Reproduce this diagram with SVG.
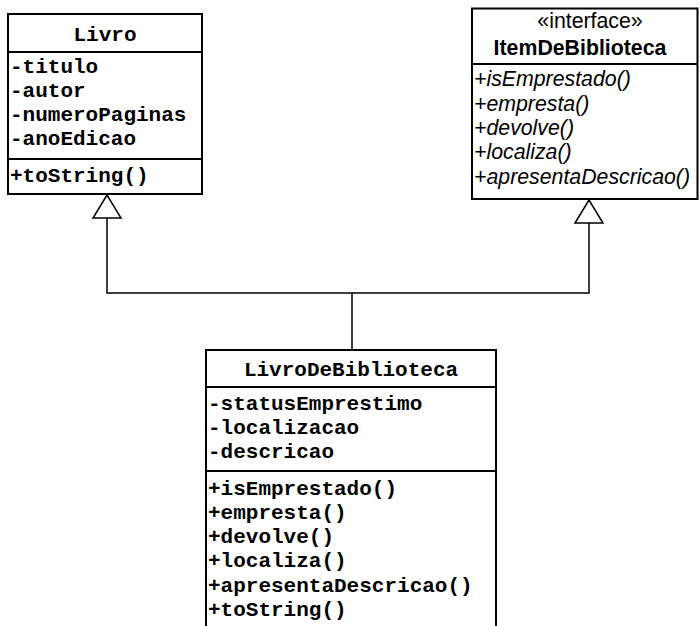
<svg xmlns="http://www.w3.org/2000/svg" width="700" height="626" viewBox="0 0 700 626">
<style>
.box{fill:#fff;stroke:#000;stroke-width:2}
.sep{stroke:#000;stroke-width:2}
.mono{font-family:"Liberation Mono","Courier New",monospace;font-weight:bold;font-size:21px;fill:#000}
.sans{font-family:"Liberation Sans",Arial,sans-serif;font-size:21.3px;fill:#000}
.conn{fill:none;stroke:#000;stroke-width:1.5}
.tri{fill:#fff;stroke:#000;stroke-width:1.5}
</style>
<rect width="700" height="626" fill="#fff"/>
<g id="connectors">
<path class="conn" d="M352 350 V293 H107 V218"/>
<path class="conn" d="M352 293 H589 V223"/>
<polygon class="tri" points="107,195 93,218 121,218"/>
<polygon class="tri" points="589,200 575,223 603,223"/>
</g>
<g id="Livro">
<rect class="box" x="8" y="14" width="194" height="180"/>
<line class="sep" x1="8" y1="52" x2="202" y2="52"/>
<line class="sep" x1="8" y1="159" x2="202" y2="159"/>
<text class="mono" x="105" y="41" text-anchor="middle">Livro</text>
<text class="mono" x="10" y="73">-titulo</text>
<text class="mono" x="10" y="97">-autor</text>
<text class="mono" x="10" y="121">-numeroPaginas</text>
<text class="mono" x="10" y="145">-anoEdicao</text>
<text class="mono" x="10" y="182">+toString()</text>
</g>
<g id="ItemDeBiblioteca">
<rect class="box" x="472" y="8.5" width="225.5" height="190.5"/>
<line class="sep" x1="472" y1="64" x2="697.5" y2="64"/>
<text class="sans" x="590" y="28" text-anchor="middle" font-size="19.5">«interface»</text>
<text class="sans" x="580" y="55" text-anchor="middle" font-weight="bold" font-size="23">ItemDeBiblioteca</text>
<text class="sans" x="474" y="86" font-style="italic">+isEmprestado()</text>
<text class="sans" x="474" y="111" font-style="italic">+empresta()</text>
<text class="sans" x="474" y="135" font-style="italic">+devolve()</text>
<text class="sans" x="474" y="159" font-style="italic">+localiza()</text>
<text class="sans" x="474" y="184" font-style="italic">+apresentaDescricao()</text>
</g>
<g id="LivroDeBiblioteca">
<rect class="box" x="206" y="350" width="290" height="290"/>
<line class="sep" x1="206" y1="387" x2="496" y2="387"/>
<line class="sep" x1="206" y1="471" x2="496" y2="471"/>
<text class="mono" x="351" y="376" text-anchor="middle">LivroDeBiblioteca</text>
<text class="mono" x="208" y="410">-statusEmprestimo</text>
<text class="mono" x="208" y="434">-localizacao</text>
<text class="mono" x="208" y="458">-descricao</text>
<text class="mono" x="208" y="495">+isEmprestado()</text>
<text class="mono" x="208" y="519">+empresta()</text>
<text class="mono" x="208" y="543">+devolve()</text>
<text class="mono" x="208" y="567">+localiza()</text>
<text class="mono" x="208" y="592">+apresentaDescricao()</text>
<text class="mono" x="208" y="616">+toString()</text>
</g>
</svg>
